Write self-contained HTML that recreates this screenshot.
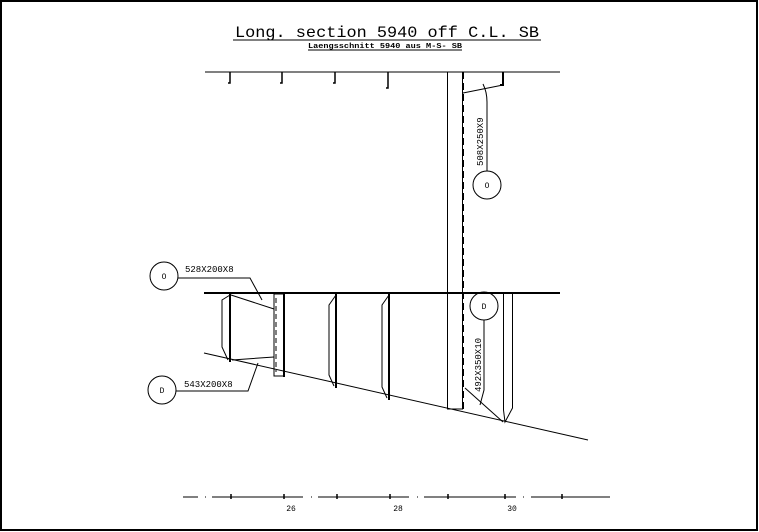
<!DOCTYPE html>
<html><head><meta charset="utf-8"><style>
html,body{margin:0;padding:0;background:#fff;width:759px;height:532px;overflow:hidden}
svg{display:block}
text{font-family:"Liberation Mono",monospace;fill:#000}
</style></head><body>
<svg width="759" height="532" viewBox="0 0 759 532" xmlns="http://www.w3.org/2000/svg">
<rect x="1" y="1" width="756" height="529" fill="none" stroke="#000" stroke-width="2"/>
<!-- title -->
<text x="387" y="37" font-size="16" text-anchor="middle" textLength="304" lengthAdjust="spacingAndGlyphs">Long. section 5940 off C.L. SB</text>
<line x1="233" y1="40" x2="541" y2="40" stroke="#000" stroke-width="1"/>
<text x="385" y="48" font-size="7" font-weight="bold" text-anchor="middle" textLength="154" lengthAdjust="spacingAndGlyphs">Laengsschnitt 5940 aus M-S- SB</text>
<line x1="308" y1="50" x2="462" y2="50" stroke="#000" stroke-width="1"/>
<g stroke="#000" fill="none" stroke-width="1">
<line x1="205" y1="72" x2="560" y2="72"/>
<path d="M230 72V83h-2M282 72V83h-2M335 72V83h-2M388 72V88h-2" stroke-width="1.5"/>
<rect x="447.5" y="72" width="15" height="337"/>
<line x1="463.5" y1="72" x2="463.5" y2="412" stroke-dasharray="7,4"/>
<path d="M463 93L503 85"/>
<path d="M503 72V85h-3" stroke-width="2"/>
<path d="M483 84Q487 92 487 102V171"/>
<circle cx="487" cy="185" r="14"/>
<line x1="204" y1="293" x2="560" y2="293" stroke-width="2"/>
<circle cx="484" cy="306" r="14"/>
<path d="M484 320V390L480 405"/>
<path d="M465 388L503 422"/>
<path d="M503.5 293V410L505 422L512.5 408V293"/>
<line x1="204" y1="353" x2="588" y2="440"/>
<path d="M230 293V362M336 293V388M389 293V400" stroke-width="2"/>
<path d="M230 295L222 300V347L228 360"/>
<path d="M336 295L329 305V375L334 386"/>
<path d="M389 295L382 305V387L387 398"/>
<rect x="274" y="294" width="10" height="82"/>
<line x1="284" y1="294" x2="284" y2="377" stroke-width="2"/>
<line x1="276" y1="298" x2="276" y2="372" stroke-dasharray="5,3"/>
<path d="M231 295L274 309M232 360L274 357"/>
<circle cx="164" cy="276" r="14"/>
<path d="M178 278H250L262 300"/>
<circle cx="162" cy="390" r="14"/>
<path d="M176 391H248L258 363"/>
<path d="M183 497H198M205 497H206M212 497H303M311 497H312M318 497H409M417 497H418M424 497H516M523 497H524M531 497H610"/>
<path d="M231 494V499M284 494V499M337 494V499M390 494V499M448 494V499M505 494V499M562 494V499" stroke-width="1.5"/>
</g>
<g font-size="9">
<text x="185" y="272">528X200X8</text>
<text x="184" y="387">543X200X8</text>
<text x="164" y="279" text-anchor="middle" font-size="8">O</text>
<text x="162" y="393" text-anchor="middle" font-size="8">D</text>
<text x="487" y="188" text-anchor="middle" font-size="8">O</text>
<text x="484" y="309" text-anchor="middle" font-size="8">D</text>
<text transform="translate(483,166) rotate(-90)">508X250X9</text>
<text transform="translate(481,392) rotate(-90)">492X350X10</text>
<text x="291" y="511" text-anchor="middle" font-size="8">26</text>
<text x="398" y="511" text-anchor="middle" font-size="8">28</text>
<text x="512" y="511" text-anchor="middle" font-size="8">30</text>
</g>
</svg>
</body></html>
